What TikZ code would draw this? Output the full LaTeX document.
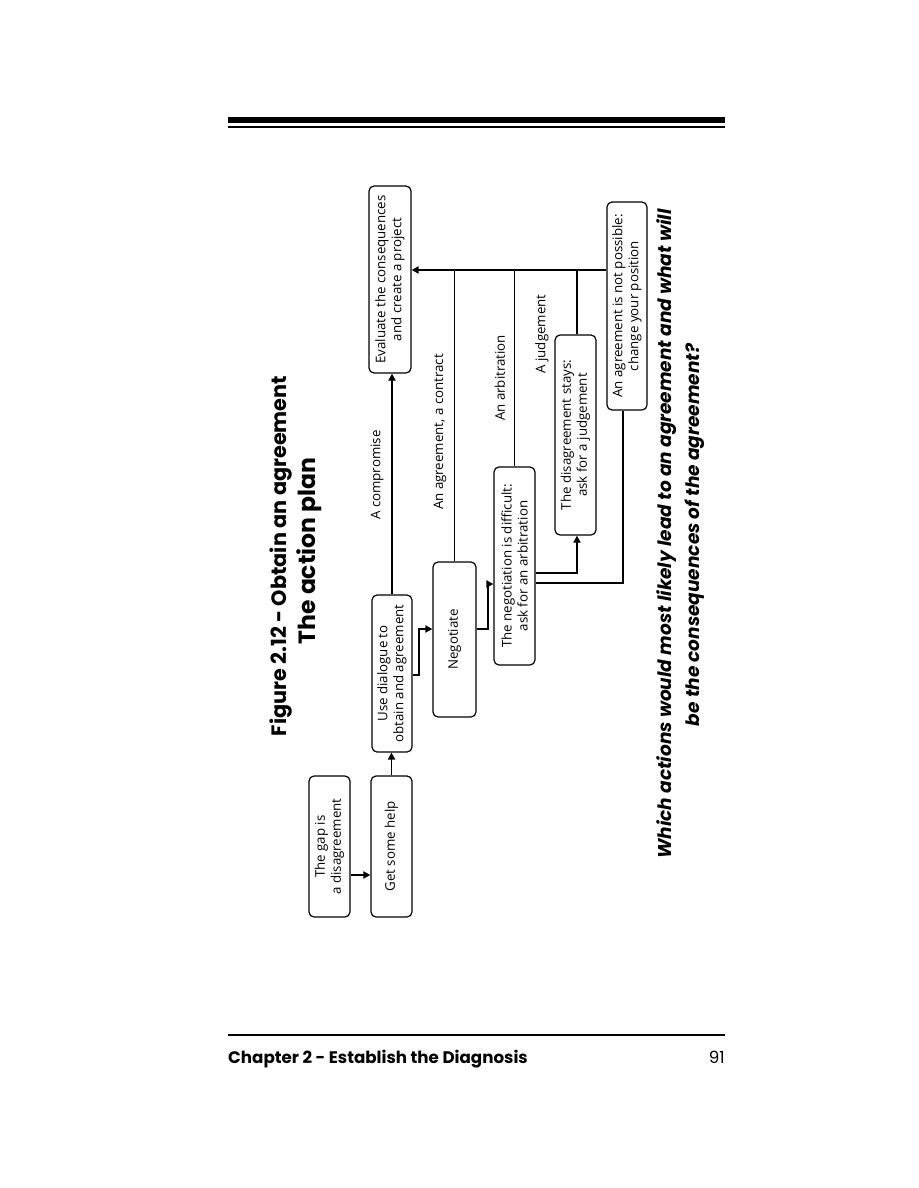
\documentclass[tikz,border=0pt]{standalone}
\usepackage{fontspec}
\setmainfont{Open Sans}
\newfontfamily\boxfont{Open Sans}
\newfontfamily\headfont{Poppins}
\usetikzlibrary{arrows.meta}
\begin{document}
\begin{tikzpicture}[x=1pt,y=-1pt,
  box/.style={draw, line width=1.2pt, rounded corners=5pt, rotate=90, inner sep=0pt, align=center, font=\boxfont\fontsize{13.3}{16}\selectfont},
  lab/.style={rotate=90, inner sep=0pt, font=\boxfont\fontsize{13.3}{16}\selectfont},
  conn/.style={line width=1.8pt},
  arr/.style={conn, -{Triangle[length=7pt,width=7pt]}},
  head/.style={rotate=90, inner sep=0pt, font=\headfont\bfseries\fontsize{20.8}{24}\selectfont},
  quest/.style={rotate=90, inner sep=0pt, font=\headfont\bfseries\itshape\fontsize{18.5}{20}\selectfont},
]
\useasboundingbox (0,0) rectangle (918,1188);
% header rules
\fill (228,117) rectangle (725,123);
\fill (228,126) rectangle (725,128);
% footer
\draw[line width=1.2pt] (228,1035) -- (725,1035);
\node[anchor=base west, inner sep=0pt, font=\headfont\bfseries\fontsize{16.7}{18}\selectfont] (ft) at (228,1063) {Chapter 2 - Establish the Diagnosis};
\node[anchor=base east, inner sep=0pt, font=\headfont\fontsize{16.7}{18}\selectfont] (pg) at (725,1063) {91};
% titles
\node[head] (t1) at (281,556) {Figure 2.12 - Obtain an agreement};
\node[head, font=\headfont\bfseries\fontsize{23.5}{24}\selectfont] (t2) at (309,551) {The action plan};
% boxes
\node[box, minimum width=141pt, minimum height=41pt] (gap) at (329.5,846.5) {The gap is\\a disagreement};
\node[box, minimum width=141pt, minimum height=41pt] (help) at (391.5,846.5) {Get some help};
\node[box, minimum width=157pt, minimum height=40pt] (dialog) at (392,673.5) {Use dialogue to\\obtain and agreement};
\node[box, minimum width=155pt, minimum height=43pt] (nego) at (454.5,639.5) {Negotiate};
\node[box, minimum width=187pt, minimum height=42pt] (eval) at (390,279.5) {Evaluate the consequences\\and create a project};
\node[box, minimum width=198pt, minimum height=41pt] (diff) at (514.5,566) {The negotiation is difficult:\\ask for an arbitration};
\node[box, minimum width=200pt, minimum height=41pt] (stays) at (575.5,435) {The disagreement stays:\\ask for a judgement};
\node[box, minimum width=208pt, minimum height=40pt] (notposs) at (627,306) {An agreement is not possible:\\change your position};
% labels
\node[lab] (l1) at (377,475) {A compromise};
\node[lab] (l2) at (440,432) {An agreement, a contract};
\node[lab] (l3) at (500,378) {An arbitration};
\node[lab] (l4) at (542,334) {A judgement};
% question
\node[quest] (q1) at (667,534) {Which actions would most likely lead to an agreement and what will};
\node[quest] (q2) at (695,535) {be the consequences of the agreement?};
% connectors
\coordinate (c1) at (0,875);
\draw[arr] (gap.south |- c1) -- (help.north |- c1);
\draw[arr] (help.east) -- (help.east |- dialog.west);
\coordinate (c3a) at (419,675);
\coordinate (c3b) at (419,629);
\draw[arr] (dialog.south |- c3a) -- (c3a) -- (c3b) -- (nego.north |- c3b);
\draw[arr] (dialog.east) -- (dialog.east |- eval.west);
\coordinate (j) at (0,270);
\coordinate (jx) at (577,0);
\draw[conn] (nego.east) -- (nego.east |- j);
\draw[conn] (diff.east) -- (diff.east |- j);
\draw[conn] (stays.east -| jx) -- (jx |- j);
\draw[arr] (notposs.north |- j) -- (eval.south |- j);
\coordinate (c6a) at (488,629);
\coordinate (c6b) at (488,584);
\draw[arr] (nego.south |- c6a) -- (c6a) -- (c6b) -- (diff.north |- c6b);
\coordinate (c10) at (577,573);
\draw[arr] (diff.south |- c10) -- (c10) -- (c10 |- stays.west);
\coordinate (c11) at (623,583);
\draw[conn] (diff.south |- c11) -- (c11) -- (c11 |- notposs.west);
\end{tikzpicture}
\end{document}
